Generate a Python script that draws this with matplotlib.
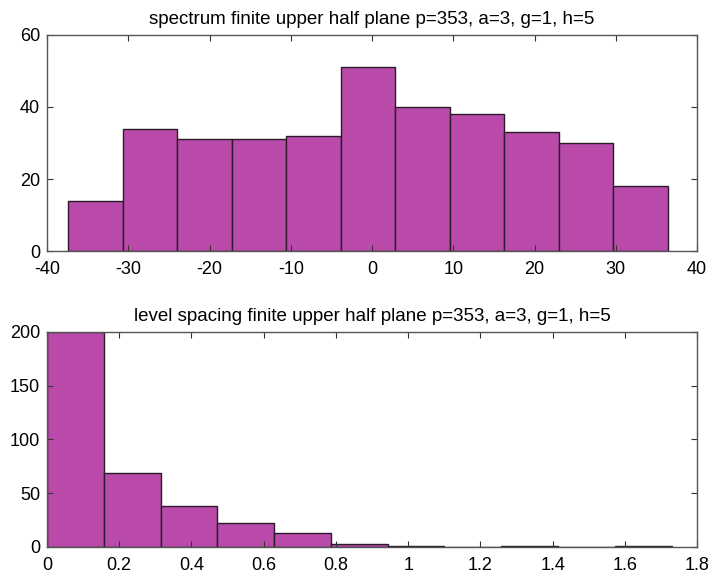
import numpy as np
import matplotlib
matplotlib.use("Agg")
import matplotlib.pyplot as plt

plt.rcParams["font.family"] = ["Liberation Sans", "DejaVu Sans"]
plt.rcParams["axes.unicode_minus"] = False

# --- Data ---
spec_range = (-37.4, 36.4)
spec_counts = [14, 34, 31, 31, 32, 51, 40, 38, 33, 30, 18]

spacing_range = (0.0, 1.729)
spacing_counts = [200, 69, 38, 22, 13, 3, 1, 0, 1, 0, 1]

titles = [
    "spectrum finite upper half plane p=353, a=3, g=1, h=5",
    "level spacing finite upper half plane p=353, a=3, g=1, h=5",
]

FACE = "#B94AAA"
EDGE = "#2a1a2a"

fig = plt.figure(figsize=(7.09, 5.80), dpi=100)
ax1 = fig.add_axes([0.0663, 0.567, 0.917, 0.373])
ax2 = fig.add_axes([0.0663, 0.057, 0.917, 0.371])


def draw_hist(ax, rng, counts):
    edges = np.linspace(rng[0], rng[1], len(counts) + 1)
    ax.bar(edges[:-1], counts, width=np.diff(edges), align="edge",
           color=FACE, edgecolor=EDGE, linewidth=1.0)


draw_hist(ax1, spec_range, spec_counts)
ax1.set_xlim(-40, 40)
ax1.set_ylim(0, 60)
ax1.set_xticks(np.arange(-40, 41, 10))
ax1.set_yticks([0, 20, 40, 60])
ax1.set_title(titles[0], fontsize=13.5, pad=8)

draw_hist(ax2, spacing_range, spacing_counts)
ax2.set_xlim(0, 1.8)
ax2.set_ylim(0, 200)
ax2.set_xticks(np.round(np.arange(0, 1.81, 0.2), 1))
ax2.set_xticklabels(["0", "0.2", "0.4", "0.6", "0.8", "1", "1.2", "1.4", "1.6", "1.8"])
ax2.set_yticks([0, 50, 100, 150, 200])
ax2.set_title(titles[1], fontsize=13.5, pad=8)

for ax in (ax1, ax2):
    ax.tick_params(direction="in", top=True, right=True, labelsize=13,
                   length=4, width=0.8, color="#333333")
    ax.tick_params(axis="x", pad=7)
    ax.tick_params(axis="y", pad=5)
    for s in ax.spines.values():
        s.set_color("#555555")
        s.set_linewidth(1.0)

fig.savefig("out.png", dpi=100)
